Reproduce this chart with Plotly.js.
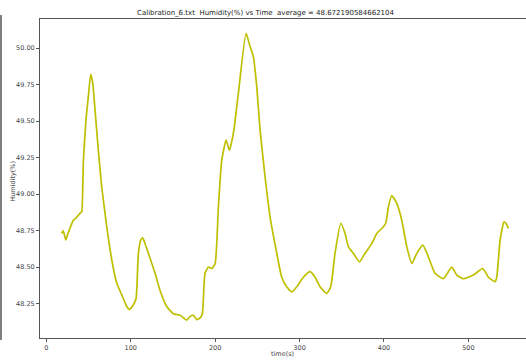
<!DOCTYPE html>
<html>
<head>
<meta charset="utf-8">
<script src="https://cdn.plot.ly/plotly-3.0.1.min.js"></script>
<style>html,body{margin:0;padding:0;overflow:hidden;background:#fff;}#chart{width:531px;height:360px;}</style>
</head>
<body>
<div id="chart"></div>
<script>
const timeS = [18.2,20,23,25,28,32,35,38,41,42,43.9,47,49.8,52.6,55,57.7,61.6,65.6,71.5,77.5,83.4,89.3,95.3,98.3,103,106.3,109,111.8,114.2,117,122.9,128.8,134.7,142.6,150.5,158.4,166.4,170,174.2,178,182,184.8,188,192,196,200,203.8,207.8,213,216.8,221.6,227.5,236.6,241.4,245.3,249.3,253.2,259.1,265,273,278.9,284.8,290.8,296.7,304.5,312.4,318.4,324.3,332.2,336.9,342,348.8,353.9,357.8,363.7,370.9,377.6,385.5,391.5,399.3,402.1,405.2,409.2,415.2,421.1,427,433,438.9,446,452.6,460.5,470.4,480.3,486.3,494.1,506,517,523.7,531.6,533.6,537.6,542.3,545.5,547.4];
const humidity = [48.73,48.75,48.685,48.72,48.765,48.82,48.835,48.856,48.875,48.88,49.23,49.51,49.67,49.82,49.76,49.575,49.30,49.05,48.78,48.55,48.39,48.31,48.23,48.21,48.24,48.285,48.59,48.685,48.70,48.66,48.56,48.457,48.34,48.23,48.18,48.17,48.137,48.16,48.17,48.14,48.15,48.18,48.457,48.50,48.49,48.525,48.91,49.23,49.37,49.30,49.415,49.69,50.10,50.01,49.94,49.735,49.44,49.12,48.845,48.594,48.43,48.365,48.33,48.365,48.43,48.468,48.43,48.365,48.32,48.365,48.594,48.80,48.73,48.64,48.594,48.536,48.594,48.66,48.73,48.776,48.80,48.91,48.99,48.936,48.82,48.64,48.525,48.594,48.65,48.57,48.457,48.42,48.50,48.445,48.42,48.445,48.49,48.43,48.40,48.43,48.685,48.81,48.79,48.765];
const xTicks = [0,100,200,300,400,500];
const yTicks = [48.25,48.50,48.75,49.00,49.25,49.50,49.75,50.00];
const titleText = "Calibration_6.txt  Humidity(%) vs Time  average = 48.672190584662104";
const xLabel = "time(s)";
const yLabel = "Humidity(%)";

const axisCommon = {
  showgrid:false, zeroline:false, showline:true, mirror:true,
  linecolor:'#555', linewidth:1, ticks:'outside', ticklen:3, tickcolor:'#555',
  tickfont:{family:'DejaVu Sans', size:6.5, color:'#444'}
};
Plotly.newPlot('chart', [{
  x: timeS, y: humidity, type:'scatter', mode:'lines',
  line:{color:'#bfbf00', width:1.7, shape:'spline', smoothing:0.5}
}], {
  width:531, height:360,
  margin:{l:40, r:1, t:19, b:22},
  paper_bgcolor:'#fff', plot_bgcolor:'#fff',
  showlegend:false,
  title:{text:titleText, font:{family:'DejaVu Sans', size:7, color:'#222'}, x:0.5, xanchor:'center', y:0.965, yanchor:'middle'},
  xaxis:Object.assign({}, axisCommon, {range:[-7.5,573], tickvals:xTicks, ticktext:xTicks.map(String)}),
  yaxis:Object.assign({}, axisCommon, {range:[48.014,50.199], tickvals:yTicks, ticktext:yTicks.map(v=>v.toFixed(2))}),
  annotations:[
    {text:xLabel, xref:'paper', yref:'paper', x:0.495, y:-0.05, xanchor:'center', yanchor:'middle', showarrow:false,
     font:{family:'DejaVu Sans', size:6.5, color:'#444'}},
    {text:yLabel, xref:'paper', yref:'paper', x:-0.0551, y:0.49, xanchor:'center', yanchor:'middle', textangle:-90, showarrow:false,
     font:{family:'DejaVu Sans', size:6.5, color:'#444'}}
  ],
  shapes:[{type:'line', xref:'paper', yref:'paper', x0:-0.0796, x1:-0.0796, y0:1.0125, y1:-0.006, line:{color:'#555', width:1.5}}]
}, {displayModeBar:false, staticPlot:true});
</script>
</body>
</html>
